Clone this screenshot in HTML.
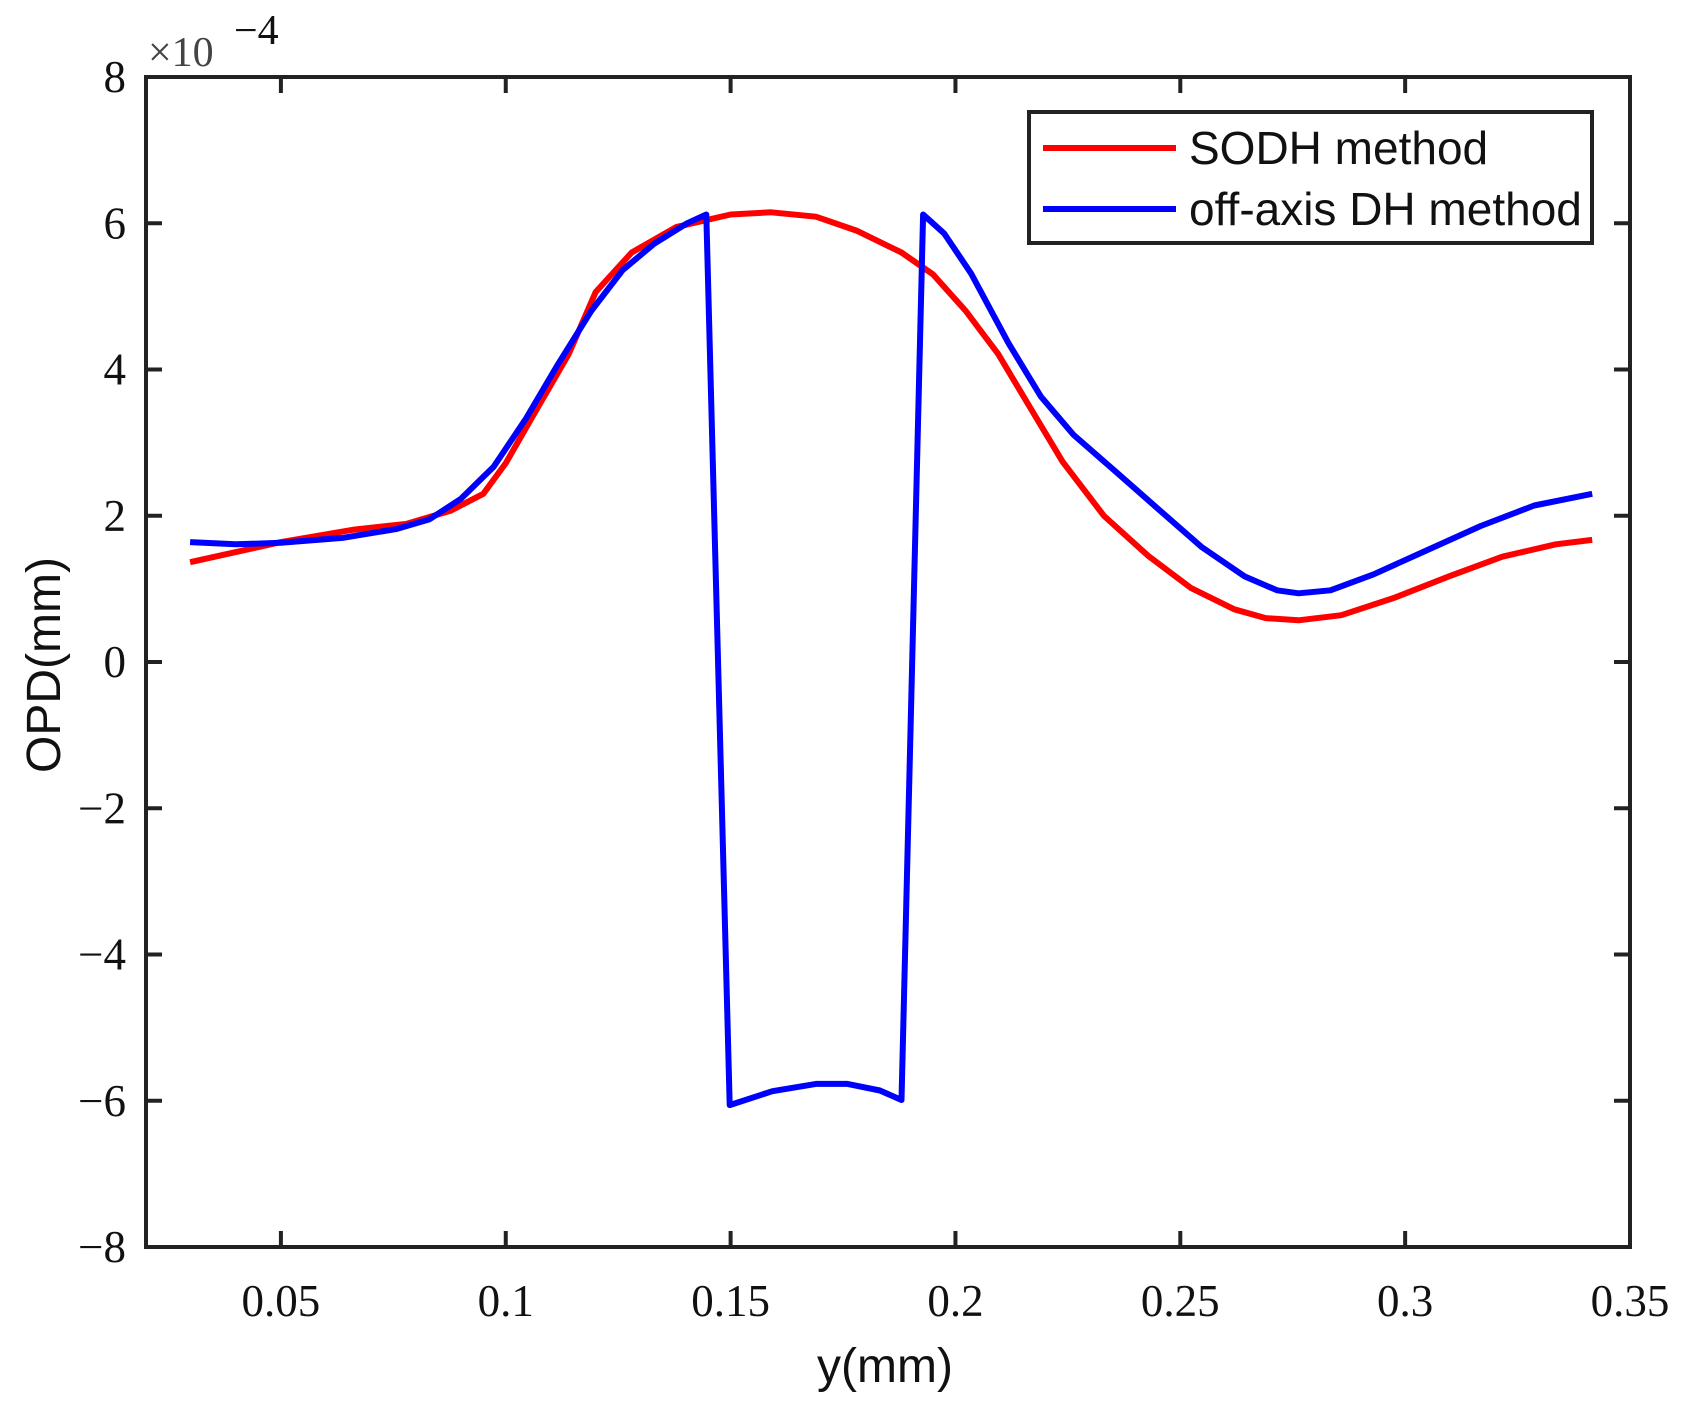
<!DOCTYPE html>
<html><head><meta charset="utf-8"><style>
html,body{margin:0;padding:0;background:#fff;}
svg{display:block;}
.tk{font-family:"Liberation Serif",serif;font-size:45px;fill:#111;}
.lab{font-family:"Liberation Sans",sans-serif;font-size:46px;fill:#111;}
.ax{font-family:"Liberation Sans",sans-serif;font-size:48px;fill:#111;}
</style></head><body>
<svg id="chart" width="1683" height="1413" viewBox="0 0 1683 1413" xmlns="http://www.w3.org/2000/svg">
<g id="grid-layer"></g>
</svg>
<script>
const xTicks=[0.05,0.1,0.15,0.2,0.25,0.3,0.35];
const xTickLabels=["0.05","0.1","0.15","0.2","0.25","0.3","0.35"];
const yTicks=[-8,-6,-4,-2,0,2,4,6,8];
const yTickLabels=["\u22128","\u22126","\u22124","\u22122","0","2","4","6","8"];
const sodhX=[0.0298,0.05,0.0663,0.078,0.0878,0.095,0.1,0.1057,0.114,0.12,0.128,0.138,0.15,0.159,0.169,0.178,0.188,0.195,0.2023,0.2095,0.2166,0.2238,0.233,0.2429,0.2524,0.262,0.269,0.2763,0.2858,0.2977,0.3097,0.3216,0.3335,0.3416];
const sodhY=[1.365,1.64,1.81,1.89,2.07,2.30,2.72,3.33,4.21,5.06,5.6,5.95,6.12,6.15,6.09,5.9,5.6,5.3,4.8,4.21,3.48,2.74,2.0,1.45,1.01,0.72,0.6,0.57,0.64,0.88,1.17,1.44,1.61,1.67];
const offX=[0.0298,0.04,0.05,0.064,0.0758,0.083,0.09,0.0973,0.1045,0.1116,0.119,0.126,0.133,0.1403,0.1446,0.1498,0.1593,0.169,0.176,0.1832,0.188,0.1928,0.1975,0.2035,0.2118,0.219,0.2262,0.2357,0.2453,0.2548,0.2643,0.2715,0.2763,0.2834,0.293,0.3049,0.3168,0.3287,0.3416];
const offY=[1.64,1.61,1.63,1.70,1.82,1.95,2.23,2.67,3.33,4.07,4.80,5.36,5.72,6.0,6.12,-6.06,-5.87,-5.77,-5.77,-5.86,-5.99,6.12,5.86,5.31,4.36,3.63,3.11,2.60,2.08,1.57,1.17,0.98,0.94,0.98,1.20,1.53,1.86,2.14,2.30];

const L=146,R=1630,T=77,B=1247,X0=0.02,X1=0.35,Y0=-8,Y1=8;
const sx=v=>L+(v-X0)/(X1-X0)*(R-L);
const sy=v=>B-(v-Y0)/(Y1-Y0)*(B-T);
const NS="http://www.w3.org/2000/svg";
const svg=document.getElementById('chart');
function mk(tag,attrs,parent){const e=document.createElementNS(NS,tag);for(const k in attrs)e.setAttribute(k,attrs[k]);(parent||svg).appendChild(e);return e;}

xTicks.forEach((t,i)=>{
  const x=sx(t);
  const a=mk('line',{x1:x,y1:B,x2:x,y2:B-16,stroke:'#222','stroke-width':4});
  
  
  const b=mk('line',{x1:x,y1:T,x2:x,y2:T+16,stroke:'#222','stroke-width':4});
  
  
  const tx=mk('text',{x:x,y:1316,'text-anchor':'middle',class:'tk'});
  tx.textContent=xTickLabels[i];
  
  
});
yTicks.forEach((t,i)=>{
  const y=sy(t);
  const a=mk('line',{x1:L,y1:y,x2:L+16,y2:y,stroke:'#222','stroke-width':4});
  
  
  const b=mk('line',{x1:R,y1:y,x2:R-16,y2:y,stroke:'#222','stroke-width':4});
  
  
  const tx=mk('text',{x:126,y:y+15,'text-anchor':'end',class:'tk'});
  tx.textContent=yTickLabels[i];
  
  
});

function series(xs,ys,color,name){
  const d=xs.map((v,i)=>(i?'L':'M')+sx(v).toFixed(1)+','+sy(ys[i]).toFixed(1)).join(' ');
  const p=mk('path',{d:d,fill:'none',stroke:color,'stroke-width':6,'stroke-linejoin':'round'});
  
  
}
series(sodhX,sodhY,'#ff0000','sodh-line');
series(offX,offY,'#0000ff','off-axis-dh-line');

const box=mk('rect',{x:L,y:T,width:R-L,height:B-T,fill:'none',stroke:'#222','stroke-width':4});


</script>
<svg style="position:absolute;left:0;top:0" width="1683" height="1413" xmlns="http://www.w3.org/2000/svg">
<g>
<rect x="1029" y="112" width="563" height="131" fill="#fff" stroke="#222" stroke-width="4"/>
<line x1="1043" y1="148" x2="1176" y2="148" stroke="#ff0000" stroke-width="6"/>
<text x="1189" y="164" class="lab">SODH method</text>
<line x1="1043" y1="209" x2="1176" y2="209" stroke="#0000ff" stroke-width="6"/>
<text x="1189" y="225" class="lab">off-axis DH method</text>
</g>
<text x="148" y="66" class="tk" style="fill:#444;font-size:42px">×10</text>
<text x="234" y="44" class="tk" style="font-size:42px">−4</text>
<text x="885" y="1382" text-anchor="middle" class="ax">y(mm)</text>
<text x="0" y="0" text-anchor="middle" class="ax" transform="translate(60,665) rotate(-90)">OPD(mm)</text>
</svg>
</body></html>
